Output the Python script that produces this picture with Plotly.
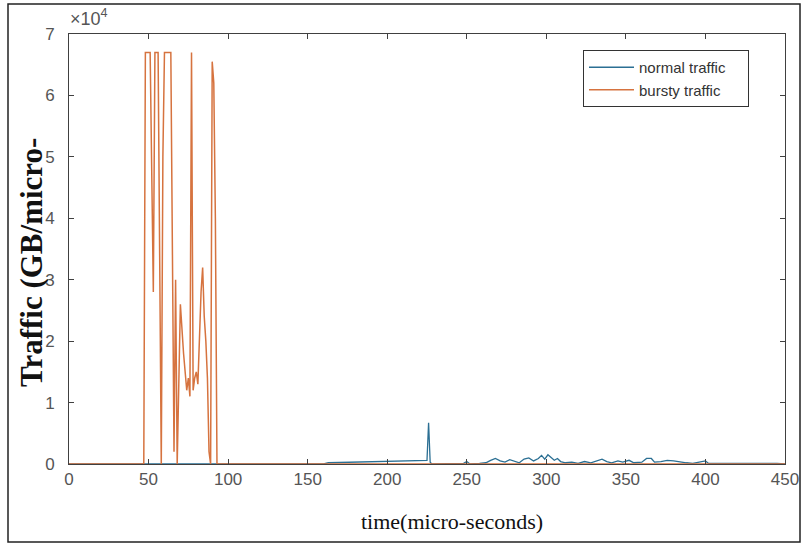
import plotly.graph_objects as go

# ---- data ----
bursty_t = [0, 47, 48, 51, 53, 54, 56, 58, 59, 60, 64, 65, 66, 67, 68, 70, 72, 74, 75, 76,
            77, 78, 79, 80, 81, 83, 84, 85, 86, 87, 88, 89, 90, 91, 92, 93, 94, 450]
bursty_v = [0, 0, 67000, 67000, 28000, 67000, 67000, 0, 50000, 67000, 67000, 35000, 2000,
            30000, 0, 26000, 18000, 12000, 14000, 11000, 67000, 12000, 14000, 15000, 13000,
            28000, 32000, 24000, 20000, 14000, 2000, 0, 65500, 62000, 40000, 0, 0, 0]

normal_t = [0, 160, 163, 170, 180, 190, 200, 210, 220, 224, 225, 226, 227, 228, 240, 248, 250,
            252, 258, 262, 265, 268, 271, 274, 277, 280, 283, 286, 289, 292, 295, 297, 299, 301,
            303, 305, 307, 309, 312, 316, 320, 324, 328, 332, 335, 338, 341, 345, 348, 352, 355,
            360, 363, 366, 368, 372, 376, 380, 384, 388, 392, 396, 400, 402, 408, 415, 420, 428,
            435, 440, 445, 450]
normal_v = [0, 0, 200, 250, 300, 350, 400, 450, 500, 550, 600, 6700, 300, 0, 0, 100, 400,
            0, 100, 200, 600, 900, 500, 300, 700, 400, 200, 800, 1000, 500, 900, 1400, 800, 1500,
            1000, 600, 900, 400, 200, 300, 100, 400, 200, 500, 800, 400, 200, 500, 300, 600, 200,
            300, 900, 900, 300, 400, 600, 500, 300, 200, 100, 300, 500, 100, 100, 200, 100, 150,
            100, 200, 100, 0]

x_ticks = [0, 50, 100, 150, 200, 250, 300, 350, 400, 450]
y_ticks = [0, 10000, 20000, 30000, 40000, 50000, 60000, 70000]
y_tick_labels = ["0", "1", "2", "3", "4", "5", "6", "7"]

# ---- figure ----
W, H = 803, 544
ML, MR, MT, MB = 69, 18, 34, 80
PW, PH = W - ML - MR, H - MT - MB


def px_x(px):
    return (px - ML) / PW


def px_y(py):
    return (H - MB - py) / PH


PAD = "\u00a0" * 4

fig = go.Figure()
fig.add_trace(go.Scatter(x=normal_t, y=normal_v, mode="lines", name="normal traffic" + PAD,
                         line=dict(color="#2b6f93", width=1.3)))
fig.add_trace(go.Scatter(x=bursty_t, y=bursty_v, mode="lines", name="bursty traffic" + PAD,
                         line=dict(color="#d6733f", width=1.5)))

tick_font = dict(family="Liberation Sans, Arial", size=17, color="#555555")
axis_common = dict(showgrid=False, zeroline=False, showline=True, linecolor="#404040",
                   linewidth=1, mirror="ticks", ticks="inside", ticklen=5, tickcolor="#404040",
                   tickfont=tick_font, automargin=False)

fig.update_xaxes(range=[0, 450], tickvals=x_ticks, **axis_common)
fig.update_yaxes(range=[0, 70000], tickvals=y_ticks, ticktext=y_tick_labels,
                 ticklabelstandoff=10, **axis_common)

# axis titles
fig.add_annotation(text="time(micro-seconds)", xref="paper", yref="paper",
                   x=px_x(452), y=px_y(521), xanchor="center", yanchor="middle",
                   showarrow=False,
                   font=dict(family="Liberation Serif, Times New Roman", size=22, color="#111111"))
fig.add_annotation(text="<b>Traffic (GB/micro-</b>", xref="paper", yref="paper",
                   x=px_x(31), y=px_y(263), xanchor="center", yanchor="middle",
                   textangle=-90, showarrow=False,
                   font=dict(family="Liberation Serif, Times New Roman", size=31, color="#111111"))

# exponent label
fig.add_annotation(text="×10<sup>4</sup>", xref="paper", yref="paper", x=px_x(68), y=px_y(31),
                   xanchor="left", yanchor="bottom", showarrow=False,
                   font=dict(family="Liberation Sans, Arial", size=18, color="#555555"))

# outer frame
fig.add_shape(type="rect", xref="paper", yref="paper",
              x0=px_x(8), x1=px_x(800), y0=px_y(542), y1=px_y(4),
              line=dict(color="#222222", width=1.5), fillcolor="rgba(0,0,0,0)")

fig.update_layout(
    width=W, height=H,
    margin=dict(l=ML, r=MR, t=MT, b=MB, autoexpand=False),
    paper_bgcolor="white", plot_bgcolor="white",
    legend=dict(x=px_x(583), y=px_y(50), xanchor="left", yanchor="top",
                bgcolor="white", bordercolor="#333333", borderwidth=1,
                font=dict(family="Liberation Sans, Arial", size=15, color="#333333"),
                tracegroupgap=0, itemwidth=45),
    showlegend=True,
)

fig.write_html("out.html", config={"displayModeBar": False},
               post_script="document.body.style.margin='0';document.body.style.overflow='hidden';")
